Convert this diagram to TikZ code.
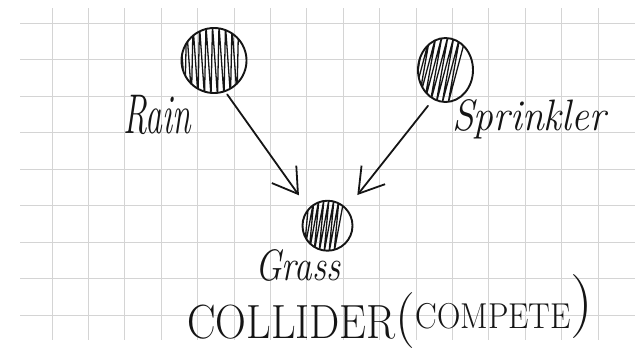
\documentclass[tikz,border=0pt]{standalone}
\usepackage{graphicx}
\usetikzlibrary{arrows.meta,shapes.geometric}
\definecolor{ink}{HTML}{151515}
\tikzset{
  gridline/.style={draw=black!17, line width=1pt},
  varnode/.style={ellipse, draw=ink, line width=1.9pt, inner sep=0pt},
  hatch/.style={draw=ink, line width=1.3pt, line join=round},
  causal/.style={draw=ink, line width=1.8pt, line cap=round,
    -{Straight Barb[length=24pt,width=30pt,line width=1.8pt]}},
  lab/.style={inner sep=0pt, text=ink, anchor=base west},
}
\begin{document}
\begin{tikzpicture}[x=1pt,y=-1pt]
\useasboundingbox (0,0) rectangle (635,357);

% squared paper
\foreach \k in {0,...,8}
  \draw[gridline] (20,{23+36.5*\k}) -- (635,{23+36.5*\k});
\foreach \k in {0,...,15}
  \draw[gridline] ({52+36.4*\k},8) -- ({52+36.4*\k},340);

% scribbled shading inside each variable
\begin{scope}
  \clip (214,60.5) circle [radius=32pt];
  \draw[hatch] (180,26) \foreach \k in {1,...,9} { -- ++(5,70) -- ++(1.5,-70) };
\end{scope}
\begin{scope}
  \clip (445.5,70) ellipse [x radius=27pt, y radius=31.5pt];
  \draw[hatch] (424,36) \foreach \k in {1,...,7} { -- ++(-12,68) -- ++(18,-68) };
\end{scope}
\begin{scope}
  \clip (327.5,225.7) circle [radius=24.5pt];
  \draw[hatch] (309,199) \foreach \k in {1,...,7} { -- ++(-5,54) -- ++(10,-54) };
\end{scope}

% variables
\node[varnode, minimum width=65pt, minimum height=65pt] (rain) at (214,60.5) {};
\node[varnode, minimum width=55pt, minimum height=64pt] (sprinkler) at (445.5,70) {};
\node[varnode, minimum width=50pt, minimum height=50pt] (grass) at (327.5,225.7) {};

% causal arrows
\draw[causal, shorten <=3pt, shorten >=16pt] (rain.-70) -- (grass.138);
\draw[causal, shorten <=8pt, shorten >=17pt] (sprinkler.-113) -- (grass.42);

% labels
\node[lab, font=\fontsize{56}{56}\selectfont\itshape] (rainlab) at (123,133) {\scalebox{0.6}[1]{Rain}};
\node[lab, font=\fontsize{44}{44}\selectfont\itshape] (sprinklerlab) at (452,130) {\scalebox{0.9}[1]{Sprinkler}};
\node[lab, font=\fontsize{44}{44}\selectfont\itshape] (grasslab) at (255,280) {\scalebox{0.8}[1]{Grass}};
\node[lab] (collider) at (187,338)
  {{\fontsize{48}{48}\selectfont\scalebox{0.89}[1]{COLLIDER}}%
   \raisebox{4pt}{\fontsize{56}{56}\selectfont(}%
   \raisebox{10pt}{\fontsize{36}{36}\selectfont\scalebox{0.9}[1]{COMPETE}}%
   \raisebox{16pt}{\fontsize{64}{64}\selectfont)}};
\end{tikzpicture}
\end{document}
